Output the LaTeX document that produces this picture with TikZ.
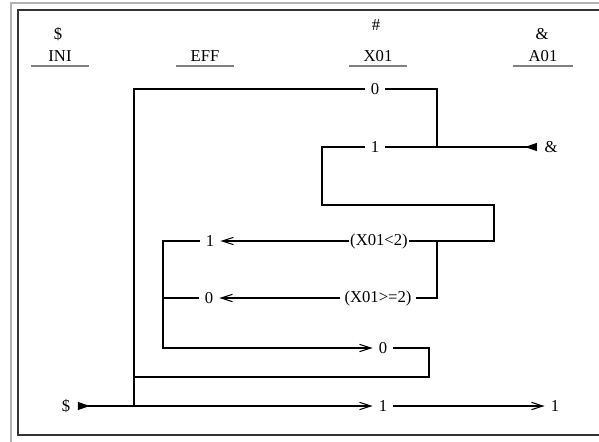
\documentclass[tikz,border=0pt]{standalone}
\usepackage{fontspec}
\setmainfont{Liberation Serif}
\usetikzlibrary{arrows.meta, calc}
\tikzset{
  wire/.style={line width=0.8pt},
  flow/.style={wire, -{Straight Barb[length=8.5pt,width=5.5pt]}},
  term/.style={wire, -{Triangle[reversed,length=9pt,width=6pt]}},
  entry/.style={wire, {Triangle[reversed,length=9pt,width=6pt]}-{Straight Barb[length=8.5pt,width=5.5pt]}}
}
\tikzset{
  val/.style={font=\fontsize{12.5}{15}\selectfont, inner xsep=4.5pt, inner ysep=1pt},
  cond/.style={font=\fontsize{12.5}{15}\selectfont, inner xsep=0.5pt, inner ysep=1pt},
  head/.style={font=\fontsize{12.5}{15}\selectfont, anchor=base, minimum width=42.75pt, inner sep=0pt},
  uline/.style={line width=1.2pt, gray}
}
\begin{document}
\begin{tikzpicture}[x=0.75pt, y=-0.75pt]
      \useasboundingbox (0,0) rectangle (599,442);
      % window frame
      \draw[gray!60, line width=1.1pt] (11,442) -- (11,3) -- (599,3);
      \draw[black!80, line width=1.1pt] (599,10) -- (18,10) -- (18,435) -- (599,435);
      % column heads
      \node[head] (hini) at (60,62) {INI};
      \node[head] (heff) at (205,62) {EFF};
      \node[head] (hx) at (378,62) {X01};
      \node[head, minimum width=45pt] (ha) at (543,62) {A01};
      \node[head] (sini) at (58,40) {\$};
      \node[head] (sx) at (376,31) {\#};
      \node[head] (sa) at (542,40) {\&};
      \foreach \n in {hini, heff, hx, ha}
        \draw[uline] ([yshift=-3pt]\n.base west) -- ([yshift=-3pt]\n.base east);
      % values and conditions
      \node[val] (z0) at (375,89) {0};
      \node[val] (o1) at (375,147) {1};
      \node[val, inner xsep=5.5pt] (amp) at (551,147) {\&};
      \node[cond] (cl) at (379,241) {(X01<2)};
      \node[val] (r1) at (210,241) {1};
      \node[cond, inner xsep=3pt] (cge) at (378,298) {(X01>=2)};
      \node[val] (r0) at (209,298) {0};
      \node[val] (m0) at (383,348) {0};
      \node[val, inner xsep=5.5pt] (dol) at (66,406) {\$};
      \node[val] (b1) at (383,406) {1};
      \node[val] (e1) at (555,406) {1};
      % bend points
      \coordinate (ctop) at (134,89);
      \coordinate (cbot) at (134,406);
      \coordinate (cmid) at (134,377);
      \coordinate (rtop) at (437,89);
      \coordinate (rone) at (437,147);
      \coordinate (wl) at (322,205);
      \coordinate (wr) at (494,205);
      \coordinate (jx) at (437,241);
      \coordinate (lb) at (163,348);
      \coordinate (mr) at (429,377);
      % connectors
      \draw[wire] (z0.west) -- (ctop) -- (cbot);
      \draw[wire] (z0.east) -- (rtop) -- (rone);
      \draw[term] (o1.east) -- (amp.west);
      \draw[wire] (o1.west) -| (wl) -- (wr) |- (cl.east);
      \draw[flow] (cl.west) -- (r1.east);
      \draw[flow] (r1.west) -| (lb) -- (m0.west);
      \draw[wire] (jx) |- (cge.east);
      \draw[flow] (cge.west) -- (r0.east);
      \draw[wire] (r0.west) -- (r0.west -| lb);
      \draw[wire] (m0.east) -| (mr) -- (cmid);
      \draw[entry] (dol.east) -- (b1.west);
      \draw[flow] (b1.east) -- (e1.west);
    \end{tikzpicture}
\end{document}
